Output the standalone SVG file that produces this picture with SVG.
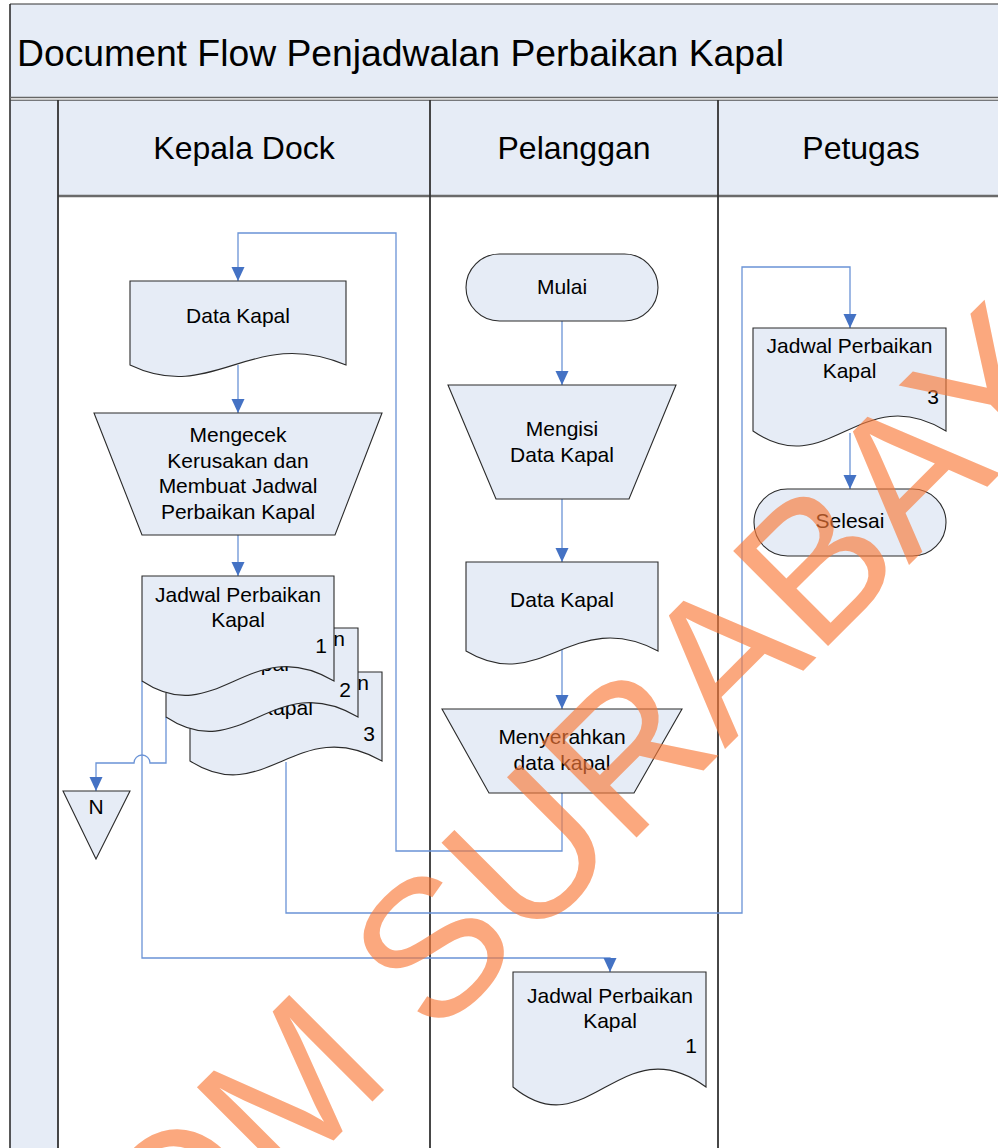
<svg xmlns="http://www.w3.org/2000/svg" width="998" height="1148" viewBox="0 0 998 1148">
  <style>
    .band { fill:#E6ECF6; stroke:none }
    .shape { fill:#E6ECF6; stroke:#2b2b2b; stroke-width:1.1 }
    .txt { font-family:"Liberation Sans", Arial, sans-serif; fill:#000 }
    .lbl { font-size:21px; text-anchor:middle }
    .num { font-size:21px; text-anchor:end }
    .head { font-size:32px; text-anchor:middle }
    .conn { fill:none; stroke:#6A93D6; stroke-width:1.3 }
    .arr { marker-end:url(#ah) }
    .wm { font-family:"Liberation Sans", Arial, sans-serif; font-size:195px; fill:#F97B3A; opacity:0.65 }
  </style>
  <defs>
    <marker id="ah" markerUnits="userSpaceOnUse" markerWidth="14" markerHeight="14" refX="14" refY="6.5" orient="auto">
      <path d="M0,0 L14,6.5 L0,13 Z" fill="#4472C4"/>
    </marker>
  </defs>

  <rect width="998" height="1148" fill="#fff"/>

  <!-- swimlane frame -->
  <g id="frame">
    <rect class="band" x="10" y="4" width="1000" height="94"/>
    <rect class="band" x="10" y="100" width="48" height="1060"/>
    <rect class="band" x="58" y="100" width="960" height="96"/>
    <line x1="10" y1="4" x2="1010" y2="4" stroke="#333" stroke-width="1.2"/>
    <line x1="10" y1="4" x2="10" y2="1150" stroke="#222" stroke-width="1.5"/>
    <line x1="10" y1="97.5" x2="1010" y2="97.5" stroke="#666" stroke-width="1.6"/>
    <line x1="10" y1="100.2" x2="1010" y2="100.2" stroke="#444" stroke-width="1"/>
    <line x1="58" y1="196" x2="1010" y2="196" stroke="#6a6a6a" stroke-width="2.4"/>
    <line x1="58" y1="100" x2="58" y2="1150" stroke="#333" stroke-width="1.8"/>
    <line x1="430" y1="100" x2="430" y2="1150" stroke="#333" stroke-width="1.8"/>
    <line x1="718" y1="100" x2="718" y2="1150" stroke="#333" stroke-width="1.8"/>
    <text class="txt" x="17" y="66" font-size="37.3">Document Flow Penjadwalan Perbaikan Kapal</text>
    <text class="txt head" x="244" y="159">Kepala Dock</text>
    <text class="txt head" x="574" y="159">Pelanggan</text>
    <text class="txt head" x="861" y="159">Petugas</text>
  </g>

  <!-- connectors -->
  <g id="connectors">
    <path class="conn arr" d="M562,793 V851 H396 V233 H238 V281"/>
    <path class="conn arr" d="M562,321 V385"/>
    <path class="conn arr" d="M562,499 V562"/>
    <path class="conn arr" d="M562,650 V709"/>
    <path class="conn arr" d="M238,365 V413"/>
    <path class="conn arr" d="M238,535 V576"/>
    <path class="conn arr" d="M142,681 V958 H610 V972"/>
    <path class="conn arr" d="M166,717 V763 H150 A8,8 0 0 0 134,763 H96 V791"/>
    <path class="conn arr" d="M286,762 V913 H742 V267 H850 V328"/>
    <path class="conn arr" d="M850,433 V489"/>
  </g>

  <!-- Kepala Dock lane -->
  <g id="kd-data-kapal">
    <path class="shape" d="M130,281 H346 V365 C251,325 214,405 130,365 Z"/>
    <text class="txt lbl" x="238" y="323">Data Kapal</text>
  </g>
  <g id="kd-mengecek">
    <path class="shape" d="M94,413 H382 L335,535 H142 Z"/>
    <text class="txt lbl" x="238" y="442">Mengecek</text>
    <text class="txt lbl" x="238" y="467.5">Kerusakan dan</text>
    <text class="txt lbl" x="238" y="493">Membuat Jadwal</text>
    <text class="txt lbl" x="238" y="518.5">Perbaikan Kapal</text>
  </g>
  <g id="kd-jadwal-3">
    <path class="shape" d="M190,672 H382 V761 C297.5,713 265,809 190,761 Z"/>
    <text class="txt lbl" x="286" y="690">Jadwal Perbaikan</text>
    <text class="txt lbl" x="286" y="715">Kapal</text>
    <text class="txt num" x="375" y="741">3</text>
  </g>
  <g id="kd-jadwal-2">
    <path class="shape" d="M166,628 H358 V717 C273.5,667 241,767 166,717 Z"/>
    <text class="txt lbl" x="262" y="646">Jadwal Perbaikan</text>
    <text class="txt lbl" x="262" y="671">Kapal</text>
    <text class="txt num" x="351" y="697">2</text>
  </g>
  <g id="kd-jadwal-1">
    <path class="shape" d="M142,576 H334 V681 C249.5,631 217,731 142,681 Z"/>
    <text class="txt lbl" x="238" y="602">Jadwal Perbaikan</text>
    <text class="txt lbl" x="238" y="627">Kapal</text>
    <text class="txt num" x="327" y="653">1</text>
  </g>
  <g id="kd-n">
    <path class="shape" d="M63,791 H130 L96,859 Z"/>
    <text class="txt lbl" x="96" y="814">N</text>
  </g>

  <!-- Pelanggan lane -->
  <g id="pl-mulai">
    <rect class="shape" x="466" y="254" width="192" height="67" rx="33.5" ry="33.5"/>
    <text class="txt lbl" x="562" y="294">Mulai</text>
  </g>
  <g id="pl-mengisi">
    <path class="shape" d="M448,385 H676 L629,499 H496 Z"/>
    <text class="txt lbl" x="562" y="436">Mengisi</text>
    <text class="txt lbl" x="562" y="462">Data Kapal</text>
  </g>
  <g id="pl-data-kapal">
    <path class="shape" d="M466,562 H658 V651 C573.5,606 541,696 466,651 Z"/>
    <text class="txt lbl" x="562" y="607">Data Kapal</text>
  </g>
  <g id="pl-menyerahkan">
    <path class="shape" d="M442,709 H682 L634,793 H489 Z"/>
    <text class="txt lbl" x="562" y="744">Menyerahkan</text>
    <text class="txt lbl" x="562" y="770">data kapal</text>
  </g>
  <g id="pl-jadwal-1">
    <path class="shape" d="M513,972 H706 V1087 C621,1025 588,1149 513,1087 Z"/>
    <text class="txt lbl" x="610" y="1003">Jadwal Perbaikan</text>
    <text class="txt lbl" x="610" y="1028">Kapal</text>
    <text class="txt num" x="697" y="1053">1</text>
  </g>

  <!-- Petugas lane -->
  <g id="pt-jadwal-3">
    <path class="shape" d="M753,328 H946 V431 C861,379 828,483 753,431 Z"/>
    <text class="txt lbl" x="849.5" y="353">Jadwal Perbaikan</text>
    <text class="txt lbl" x="849.5" y="378">Kapal</text>
    <text class="txt num" x="939" y="404">3</text>
  </g>
  <g id="pt-selesai">
    <rect class="shape" x="754" y="489" width="192" height="67" rx="33.5" ry="33.5"/>
    <text class="txt lbl" x="850" y="528">Selesai</text>
  </g>

  <!-- watermark -->
  <text class="wm" transform="translate(430,945) rotate(-45)" x="-433" y="70">OM SURABAYA</text>
</svg>
